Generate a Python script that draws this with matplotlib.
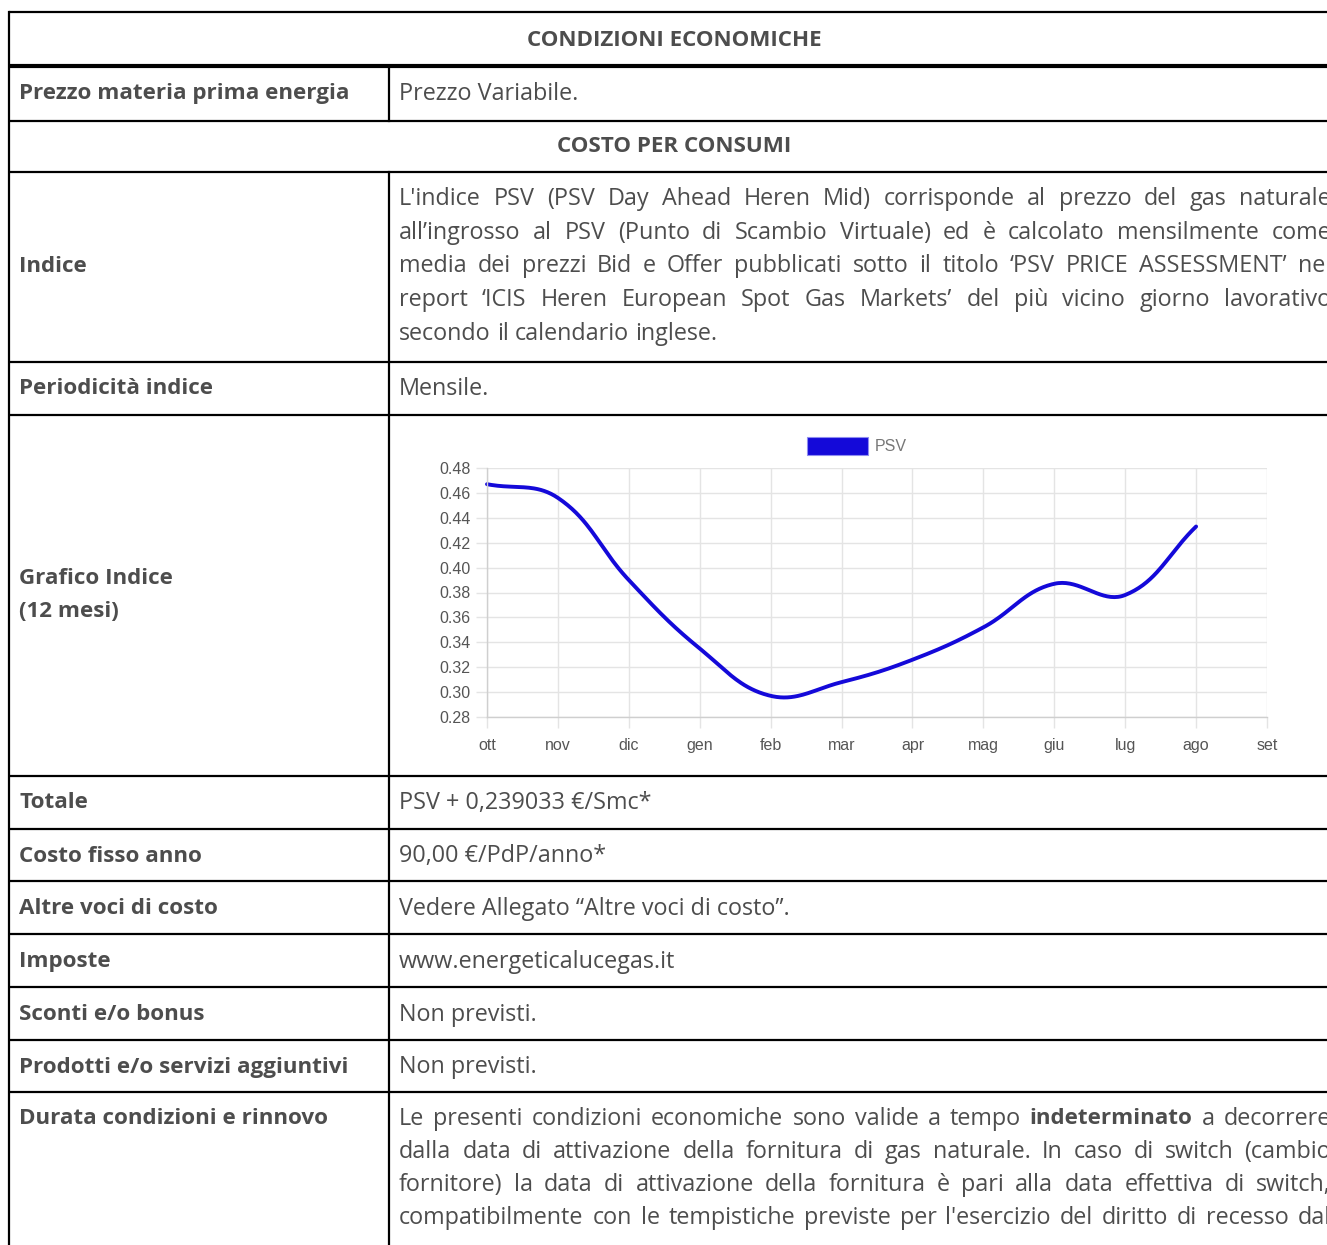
import matplotlib
matplotlib.use("Agg")
import matplotlib.pyplot as plt
import numpy as np
from matplotlib.patches import Patch

# ---------------- data ----------------
months = ["ott", "nov", "dic", "gen", "feb", "mar", "apr", "mag", "giu", "lug", "ago", "set"]
psv = [0.467, 0.456, 0.390, 0.335, 0.297, 0.308, 0.326, 0.352, 0.387, 0.378, 0.433]
yticks = [0.28, 0.30, 0.32, 0.34, 0.36, 0.38, 0.40, 0.42, 0.44, 0.46, 0.48]
series_label = "PSV"

title_row = "CONDIZIONI ECONOMICHE"
section_row = "COSTO PER CONSUMI"
row_labels = ["Prezzo materia prima energia", "Indice", "Periodicità indice",
              "Grafico Indice\n(12 mesi)", "Totale", "Costo fisso anno",
              "Altre voci di costo", "Imposte", "Sconti e/o bonus",
              "Prodotti e/o servizi aggiuntivi", "Durata condizioni e rinnovo"]
simple_values = {
    "Prezzo materia prima energia": "Prezzo Variabile.",
    "Periodicità indice": "Mensile.",
    "Totale": "PSV + 0,239033 €/Smc*",
    "Costo fisso anno": "90,00 €/PdP/anno*",
    "Altre voci di costo": "Vedere Allegato “Altre voci di costo”.",
    "Imposte": "www.energeticalucegas.it",
    "Sconti e/o bonus": "Non previsti.",
    "Prodotti e/o servizi aggiuntivi": "Non previsti.",
}
indice_lines = [
    "L'indice PSV (PSV Day Ahead Heren Mid) corrisponde al prezzo del gas naturale",
    "all’ingrosso al PSV (Punto di Scambio Virtuale) ed è calcolato mensilmente come",
    "media dei prezzi Bid e Offer pubblicati sotto il titolo ‘PSV PRICE ASSESSMENT’ nel",
    "report ‘ICIS Heren European Spot Gas Markets’ del più vicino giorno lavorativo",
    "secondo il calendario inglese.",
]
durata_lines = [
    "Le presenti condizioni economiche sono valide a tempo *indeterminato* a decorrere",
    "dalla data di attivazione della fornitura di gas naturale. In caso di switch (cambio",
    "fornitore) la data di attivazione della fornitura è pari alla data effettiva di switch,",
    "compatibilmente con le tempistiche previste per l'esercizio del diritto di recesso dal",
]

# ---------------- layout ----------------
W, H = 1327, 1245
fig = plt.figure(figsize=(W / 100, H / 100), dpi=100)
fig.patch.set_facecolor("white")
ax0 = fig.add_axes([0, 0, 1, 1])
ax0.set_xlim(0, W)
ax0.set_ylim(H, 0)
ax0.axis("off")

FONT = ["Open Sans", "DejaVu Sans"]
FS = 16.8
FSB = 16.1
TXT = "#4d4d4d"
LX, DX, TX = 9, 389, 399
RIGHT = 1331

hlines = [12, 66, 121, 172, 362, 415, 776, 829, 881, 934, 987, 1040, 1092]
for y in hlines:
    lw = 3.0 if y == 66 else 1.6
    ax0.plot([LX, W + 5], [y, y], color="black", lw=lw, solid_capstyle="butt")
ax0.plot([LX, LX], [12, H + 5], color="black", lw=1.6)
for y0, y1 in [(66, 121), (172, H + 5)]:
    ax0.plot([DX, DX], [y0, y1], color="black", lw=1.6)

def t(x, y, s, bold=False, ha="left", **kw):
    return ax0.text(x, y, s, fontsize=FSB if bold else FS, family=FONT, color=TXT,
                    fontweight="bold" if bold else "normal", ha=ha, va="center", **kw)

t(674, 40, title_row, bold=True, ha="center")
t(674, 147, section_row, bold=True, ha="center")

label_y = {"Prezzo materia prima energia": 94, "Indice": 267, "Periodicità indice": 389,
           "Grafico Indice\n(12 mesi)": 595, "Totale": 803, "Costo fisso anno": 856,
           "Altre voci di costo": 909, "Imposte": 962, "Sconti e/o bonus": 1015,
           "Prodotti e/o servizi aggiuntivi": 1067, "Durata condizioni e rinnovo": 1119}
for lab in row_labels:
    t(19, label_y[lab], lab, bold=True, linespacing=1.78)
    if lab in simple_values:
        t(TX, label_y[lab], simple_values[lab])

renderer = fig.canvas.get_renderer()

def word_width(w, bold):
    tt = ax0.text(0, 0, w, fontsize=FSB if bold else FS, family=FONT,
                  fontweight="bold" if bold else "normal")
    bb = tt.get_window_extent(renderer=renderer)
    tt.remove()
    return bb.width

space_w = word_width("a a", False) - word_width("aa", False)

def justified(lines, y0, dy, justify_last=False):
    for i, line in enumerate(lines):
        toks = []
        for w in line.split(" "):
            b = w.startswith("*") and w.endswith("*")
            toks.append((w.strip("*"), b))
        widths = [word_width(w, b) for w, b in toks]
        last = (i == len(lines) - 1) and not justify_last
        if last or len(toks) < 2:
            gap = space_w
        else:
            gap = (RIGHT - TX - sum(widths)) / (len(toks) - 1)
        x = TX
        y = y0 + i * dy
        for (w, b), wd in zip(toks, widths):
            t(x, y, w, bold=b)
            x += wd + gap

justified(indice_lines, 199, 33.7)
justified(durata_lines, 1119, 33.0, justify_last=True)

# ---------------- chart ----------------
cl, cr, ct, cb = 487, 1267, 468, 717
ax = fig.add_axes([cl / W, 1 - cb / H, (cr - cl) / W, (cb - ct) / H])
ax.set_xlim(0, len(months) - 1)
ax.set_ylim(yticks[0], yticks[-1])
ax.set_xticks(range(len(months)))
ax.set_xticklabels(months)
ax.set_yticks(yticks)
ax.set_yticklabels([f"{v:.2f}" for v in yticks])
grid_c = "#e4e4e4"
ax.grid(True, color=grid_c, lw=1.0)
ax.set_axisbelow(True)
for sp in ["top", "right"]:
    ax.spines[sp].set_visible(False)
for sp in ["left", "bottom"]:
    ax.spines[sp].set_color("#cfcfcf")
    ax.spines[sp].set_linewidth(1.0)
ax.tick_params(axis="both", colors=grid_c, length=8, width=1.0,
               labelcolor="#555555", labelsize=11.5)
ax.tick_params(axis="x", pad=7)
ax.tick_params(axis="y", pad=4)
for lab in ax.get_xticklabels() + ax.get_yticklabels():
    lab.set_family(["Liberation Sans", "DejaVu Sans"])
ax.patch.set_alpha(0)

# Chart.js-like tension spline computed in display space
fig.canvas.draw()
pts = ax.transData.transform(np.column_stack([np.arange(len(psv)), psv]))
tension = 0.4
n = len(pts)
cps = []
for i in range(n):
    p = pts[i]
    prev = pts[i - 1] if i > 0 else p
    nxt = pts[i + 1] if i < n - 1 else p
    d01 = np.hypot(*(p - prev))
    d12 = np.hypot(*(nxt - p))
    s = d01 + d12
    fa = tension * d01 / s if s else 0
    fb = tension * d12 / s if s else 0
    cps.append((p - fa * (nxt - prev), p + fb * (nxt - prev)))
curve = []
tt_ = np.linspace(0, 1, 40)
for i in range(n - 1):
    p0, p3 = pts[i], pts[i + 1]
    p1, p2 = cps[i][1], cps[i + 1][0]
    u = tt_[:, None]
    seg = ((1 - u) ** 3 * p0 + 3 * (1 - u) ** 2 * u * p1
           + 3 * (1 - u) * u ** 2 * p2 + u ** 3 * p3)
    curve.append(seg if i == 0 else seg[1:])
curve = np.vstack(curve)
curve_data = ax.transData.inverted().transform(curve)
blue = "#1409d9"
ax.plot(curve_data[:, 0], curve_data[:, 1], color=blue, lw=2.8,
        solid_capstyle="round", clip_on=False)

leg = ax.legend(handles=[Patch(facecolor=blue, edgecolor="#8f8cf0", lw=0.8)],
                labels=[series_label], loc="center",
                bbox_to_anchor=(0.474, 1.088), frameon=False,
                handlelength=3.8, handleheight=1.4, fontsize=11.5,
                handletextpad=0.4, borderpad=0, borderaxespad=0)
for tx in leg.get_texts():
    tx.set_color("#777777")
    tx.set_family(["Liberation Sans", "DejaVu Sans"])

fig.savefig("out.png", dpi=100, facecolor="white")
